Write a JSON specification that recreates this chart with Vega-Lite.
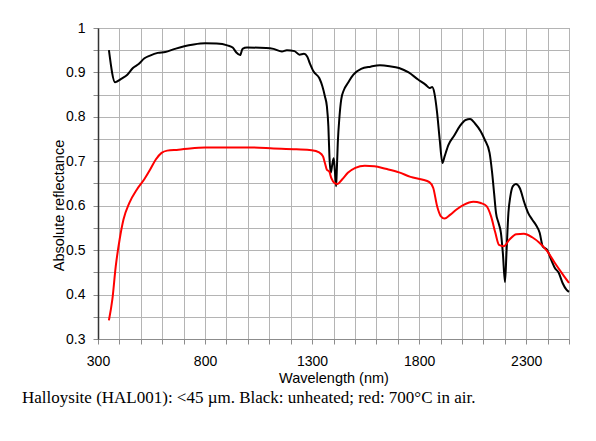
{
  "$schema": "https://vega.github.io/schema/vega-lite/v6.json",
  "width": 471,
  "height": 311,
  "autosize": {"type": "none"},
  "padding": {"left": 98, "top": 28, "right": 27, "bottom": 102},
  "background": "white",
  "title": {
    "text": "Halloysite (HAL001): <45 µm. Black: unheated; red: 700°C in air.",
    "orient": "bottom",
    "anchor": "start",
    "frame": "group",
    "dx": -76,
    "offset": 5,
    "font": "Liberation Serif",
    "fontSize": 17,
    "fontWeight": "normal",
    "color": "#000000"
  },
  "config": {
    "view": {"stroke": "#8c8c8c", "strokeWidth": 1},
    "axis": {
      "labelFont": "Liberation Sans",
      "titleFont": "Liberation Sans",
      "labelColor": "#000000",
      "titleColor": "#000000",
      "titleFontWeight": "normal",
      "gridColor": "#b4b4b4",
      "gridOpacity": 1,
      "gridWidth": 1,
      "tickColor": "#8c8c8c",
      "tickSize": 5
    }
  },
  "data": {
    "values": [
      {"wavelength": 351, "reflectance": 0.950, "series": "unheated"},
      {"wavelength": 380, "reflectance": 0.878, "series": "unheated"},
      {"wavelength": 410, "reflectance": 0.886, "series": "unheated"},
      {"wavelength": 437, "reflectance": 0.895, "series": "unheated"},
      {"wavelength": 463, "reflectance": 0.910, "series": "unheated"},
      {"wavelength": 490, "reflectance": 0.919, "series": "unheated"},
      {"wavelength": 517, "reflectance": 0.932, "series": "unheated"},
      {"wavelength": 543, "reflectance": 0.938, "series": "unheated"},
      {"wavelength": 579, "reflectance": 0.944, "series": "unheated"},
      {"wavelength": 614, "reflectance": 0.946, "series": "unheated"},
      {"wavelength": 659, "reflectance": 0.953, "series": "unheated"},
      {"wavelength": 703, "reflectance": 0.959, "series": "unheated"},
      {"wavelength": 747, "reflectance": 0.963, "series": "unheated"},
      {"wavelength": 801, "reflectance": 0.9655, "series": "unheated"},
      {"wavelength": 854, "reflectance": 0.965, "series": "unheated"},
      {"wavelength": 904, "reflectance": 0.961, "series": "unheated"},
      {"wavelength": 929, "reflectance": 0.956, "series": "unheated"},
      {"wavelength": 946, "reflectance": 0.945, "series": "unheated"},
      {"wavelength": 964, "reflectance": 0.939, "series": "unheated"},
      {"wavelength": 975, "reflectance": 0.953, "series": "unheated"},
      {"wavelength": 996, "reflectance": 0.956, "series": "unheated"},
      {"wavelength": 1085, "reflectance": 0.955, "series": "unheated"},
      {"wavelength": 1120, "reflectance": 0.953, "series": "unheated"},
      {"wavelength": 1159, "reflectance": 0.947, "series": "unheated"},
      {"wavelength": 1182, "reflectance": 0.950, "series": "unheated"},
      {"wavelength": 1218, "reflectance": 0.948, "series": "unheated"},
      {"wavelength": 1241, "reflectance": 0.940, "series": "unheated"},
      {"wavelength": 1262, "reflectance": 0.942, "series": "unheated"},
      {"wavelength": 1277, "reflectance": 0.936, "series": "unheated"},
      {"wavelength": 1289, "reflectance": 0.921, "series": "unheated"},
      {"wavelength": 1307, "reflectance": 0.902, "series": "unheated"},
      {"wavelength": 1334, "reflectance": 0.887, "series": "unheated"},
      {"wavelength": 1348, "reflectance": 0.869, "series": "unheated"},
      {"wavelength": 1360, "reflectance": 0.846, "series": "unheated"},
      {"wavelength": 1369, "reflectance": 0.824, "series": "unheated"},
      {"wavelength": 1376, "reflectance": 0.779, "series": "unheated"},
      {"wavelength": 1381, "reflectance": 0.711, "series": "unheated"},
      {"wavelength": 1387, "reflectance": 0.674, "series": "unheated"},
      {"wavelength": 1394, "reflectance": 0.692, "series": "unheated"},
      {"wavelength": 1401, "reflectance": 0.707, "series": "unheated"},
      {"wavelength": 1406, "reflectance": 0.681, "series": "unheated"},
      {"wavelength": 1412, "reflectance": 0.644, "series": "unheated"},
      {"wavelength": 1415, "reflectance": 0.674, "series": "unheated"},
      {"wavelength": 1420, "reflectance": 0.741, "series": "unheated"},
      {"wavelength": 1428, "reflectance": 0.801, "series": "unheated"},
      {"wavelength": 1436, "reflectance": 0.839, "series": "unheated"},
      {"wavelength": 1449, "reflectance": 0.861, "series": "unheated"},
      {"wavelength": 1467, "reflectance": 0.876, "series": "unheated"},
      {"wavelength": 1493, "reflectance": 0.895, "series": "unheated"},
      {"wavelength": 1529, "reflectance": 0.908, "series": "unheated"},
      {"wavelength": 1573, "reflectance": 0.913, "series": "unheated"},
      {"wavelength": 1617, "reflectance": 0.916, "series": "unheated"},
      {"wavelength": 1662, "reflectance": 0.914, "series": "unheated"},
      {"wavelength": 1706, "reflectance": 0.910, "series": "unheated"},
      {"wavelength": 1751, "reflectance": 0.900, "series": "unheated"},
      {"wavelength": 1795, "reflectance": 0.884, "series": "unheated"},
      {"wavelength": 1831, "reflectance": 0.872, "series": "unheated"},
      {"wavelength": 1848, "reflectance": 0.865, "series": "unheated"},
      {"wavelength": 1861, "reflectance": 0.867, "series": "unheated"},
      {"wavelength": 1871, "reflectance": 0.854, "series": "unheated"},
      {"wavelength": 1884, "reflectance": 0.809, "series": "unheated"},
      {"wavelength": 1896, "reflectance": 0.749, "series": "unheated"},
      {"wavelength": 1909, "reflectance": 0.696, "series": "unheated"},
      {"wavelength": 1919, "reflectance": 0.711, "series": "unheated"},
      {"wavelength": 1937, "reflectance": 0.737, "series": "unheated"},
      {"wavelength": 1964, "reflectance": 0.758, "series": "unheated"},
      {"wavelength": 1990, "reflectance": 0.779, "series": "unheated"},
      {"wavelength": 2017, "reflectance": 0.793, "series": "unheated"},
      {"wavelength": 2038, "reflectance": 0.795, "series": "unheated"},
      {"wavelength": 2061, "reflectance": 0.785, "series": "unheated"},
      {"wavelength": 2088, "reflectance": 0.767, "series": "unheated"},
      {"wavelength": 2106, "reflectance": 0.749, "series": "unheated"},
      {"wavelength": 2129, "reflectance": 0.719, "series": "unheated"},
      {"wavelength": 2141, "reflectance": 0.674, "series": "unheated"},
      {"wavelength": 2150, "reflectance": 0.629, "series": "unheated"},
      {"wavelength": 2159, "reflectance": 0.584, "series": "unheated"},
      {"wavelength": 2171, "reflectance": 0.561, "series": "unheated"},
      {"wavelength": 2182, "reflectance": 0.539, "series": "unheated"},
      {"wavelength": 2191, "reflectance": 0.494, "series": "unheated"},
      {"wavelength": 2201, "reflectance": 0.428, "series": "unheated"},
      {"wavelength": 2208, "reflectance": 0.494, "series": "unheated"},
      {"wavelength": 2217, "reflectance": 0.584, "series": "unheated"},
      {"wavelength": 2226, "reflectance": 0.621, "series": "unheated"},
      {"wavelength": 2238, "reflectance": 0.644, "series": "unheated"},
      {"wavelength": 2252, "reflectance": 0.649, "series": "unheated"},
      {"wavelength": 2270, "reflectance": 0.640, "series": "unheated"},
      {"wavelength": 2292, "reflectance": 0.606, "series": "unheated"},
      {"wavelength": 2309, "reflectance": 0.584, "series": "unheated"},
      {"wavelength": 2328, "reflectance": 0.569, "series": "unheated"},
      {"wavelength": 2345, "reflectance": 0.557, "series": "unheated"},
      {"wavelength": 2363, "reflectance": 0.539, "series": "unheated"},
      {"wavelength": 2377, "reflectance": 0.509, "series": "unheated"},
      {"wavelength": 2399, "reflectance": 0.500, "series": "unheated"},
      {"wavelength": 2416, "reflectance": 0.479, "series": "unheated"},
      {"wavelength": 2434, "reflectance": 0.460, "series": "unheated"},
      {"wavelength": 2452, "reflectance": 0.449, "series": "unheated"},
      {"wavelength": 2470, "reflectance": 0.426, "series": "unheated"},
      {"wavelength": 2488, "reflectance": 0.411, "series": "unheated"},
      {"wavelength": 2500, "reflectance": 0.406, "series": "unheated"},

      {"wavelength": 351, "reflectance": 0.342, "series": "700C"},
      {"wavelength": 367, "reflectance": 0.389, "series": "700C"},
      {"wavelength": 383, "reflectance": 0.464, "series": "700C"},
      {"wavelength": 401, "reflectance": 0.524, "series": "700C"},
      {"wavelength": 419, "reflectance": 0.569, "series": "700C"},
      {"wavelength": 446, "reflectance": 0.606, "series": "700C"},
      {"wavelength": 481, "reflectance": 0.636, "series": "700C"},
      {"wavelength": 517, "reflectance": 0.660, "series": "700C"},
      {"wavelength": 543, "reflectance": 0.681, "series": "700C"},
      {"wavelength": 570, "reflectance": 0.704, "series": "700C"},
      {"wavelength": 597, "reflectance": 0.719, "series": "700C"},
      {"wavelength": 623, "reflectance": 0.724, "series": "700C"},
      {"wavelength": 676, "reflectance": 0.726, "series": "700C"},
      {"wavelength": 730, "reflectance": 0.729, "series": "700C"},
      {"wavelength": 801, "reflectance": 0.731, "series": "700C"},
      {"wavelength": 907, "reflectance": 0.731, "series": "700C"},
      {"wavelength": 1014, "reflectance": 0.731, "series": "700C"},
      {"wavelength": 1120, "reflectance": 0.729, "series": "700C"},
      {"wavelength": 1227, "reflectance": 0.727, "series": "700C"},
      {"wavelength": 1298, "reflectance": 0.725, "series": "700C"},
      {"wavelength": 1333, "reflectance": 0.720, "series": "700C"},
      {"wavelength": 1351, "reflectance": 0.711, "series": "700C"},
      {"wavelength": 1360, "reflectance": 0.696, "series": "700C"},
      {"wavelength": 1369, "reflectance": 0.681, "series": "700C"},
      {"wavelength": 1380, "reflectance": 0.677, "series": "700C"},
      {"wavelength": 1390, "reflectance": 0.662, "series": "700C"},
      {"wavelength": 1405, "reflectance": 0.651, "series": "700C"},
      {"wavelength": 1419, "reflectance": 0.649, "series": "700C"},
      {"wavelength": 1440, "reflectance": 0.659, "series": "700C"},
      {"wavelength": 1467, "reflectance": 0.674, "series": "700C"},
      {"wavelength": 1502, "reflectance": 0.685, "series": "700C"},
      {"wavelength": 1546, "reflectance": 0.690, "series": "700C"},
      {"wavelength": 1591, "reflectance": 0.689, "series": "700C"},
      {"wavelength": 1644, "reflectance": 0.683, "series": "700C"},
      {"wavelength": 1706, "reflectance": 0.675, "series": "700C"},
      {"wavelength": 1760, "reflectance": 0.665, "series": "700C"},
      {"wavelength": 1813, "reflectance": 0.659, "series": "700C"},
      {"wavelength": 1848, "reflectance": 0.653, "series": "700C"},
      {"wavelength": 1866, "reflectance": 0.640, "series": "700C"},
      {"wavelength": 1884, "reflectance": 0.599, "series": "700C"},
      {"wavelength": 1902, "reflectance": 0.576, "series": "700C"},
      {"wavelength": 1919, "reflectance": 0.571, "series": "700C"},
      {"wavelength": 1946, "reflectance": 0.580, "series": "700C"},
      {"wavelength": 1973, "reflectance": 0.591, "series": "700C"},
      {"wavelength": 2008, "reflectance": 0.602, "series": "700C"},
      {"wavelength": 2053, "reflectance": 0.609, "series": "700C"},
      {"wavelength": 2088, "reflectance": 0.606, "series": "700C"},
      {"wavelength": 2115, "reflectance": 0.599, "series": "700C"},
      {"wavelength": 2136, "reflectance": 0.576, "series": "700C"},
      {"wavelength": 2156, "reflectance": 0.539, "series": "700C"},
      {"wavelength": 2173, "reflectance": 0.512, "series": "700C"},
      {"wavelength": 2195, "reflectance": 0.509, "series": "700C"},
      {"wavelength": 2222, "reflectance": 0.524, "series": "700C"},
      {"wavelength": 2254, "reflectance": 0.536, "series": "700C"},
      {"wavelength": 2289, "reflectance": 0.537, "series": "700C"},
      {"wavelength": 2328, "reflectance": 0.529, "series": "700C"},
      {"wavelength": 2363, "reflectance": 0.516, "series": "700C"},
      {"wavelength": 2399, "reflectance": 0.497, "series": "700C"},
      {"wavelength": 2434, "reflectance": 0.471, "series": "700C"},
      {"wavelength": 2470, "reflectance": 0.446, "series": "700C"},
      {"wavelength": 2500, "reflectance": 0.426, "series": "700C"}
    ]
  },
  "mark": {"type": "line", "strokeWidth": 2, "interpolate": "monotone"},
  "encoding": {
    "x": {
      "field": "wavelength",
      "type": "quantitative",
      "scale": {"domain": [300, 2500], "nice": false, "zero": false},
      "axis": {
        "title": "Wavelength (nm)",
        "titleFontSize": 14.5,
        "titlePadding": 3,
        "labelFontSize": 14,
        "labelPadding": 10,
        "labelFlush": false,
        "format": "d",
        "values": [300, 400, 500, 600, 700, 800, 900, 1000, 1100, 1200, 1300, 1400, 1500, 1600, 1700, 1800, 1900, 2000, 2100, 2200, 2300, 2400, 2500],
        "labelExpr": "(datum.value - 300) % 500 == 0 ? datum.label : ''",
        "domainColor": "#8c8c8c",
        "domainWidth": 1.2,
        "tickSize": 5
      }
    },
    "y": {
      "field": "reflectance",
      "type": "quantitative",
      "scale": {"domain": [0.3, 1.0], "nice": false, "zero": false},
      "axis": {
        "title": "Absolute reflectance",
        "titleFontSize": 14.5,
        "titleX": -35,
        "titleY": 177,
        "titleAlign": "center",
        "titleBaseline": "alphabetic",
        "titleAngle": -90,
        "labelFontSize": 14,
        "labelPadding": 8,
        "labelFlush": false,
        "values": [0.3, 0.35, 0.4, 0.45, 0.5, 0.55, 0.6, 0.65, 0.7, 0.75, 0.8, 0.85, 0.9, 0.95, 1.0],
        "labelExpr": "abs(datum.value * 10 - round(datum.value * 10)) < 0.01 ? format(datum.value, '.1~f') : ''",
        "domainColor": "#333333",
        "domainWidth": 1.5,
        "tickSize": 5
      }
    },
    "color": {
      "field": "series",
      "type": "nominal",
      "scale": {"domain": ["unheated", "700C"], "range": ["#000000", "#ff0000"]},
      "legend": null
    }
  }
}
